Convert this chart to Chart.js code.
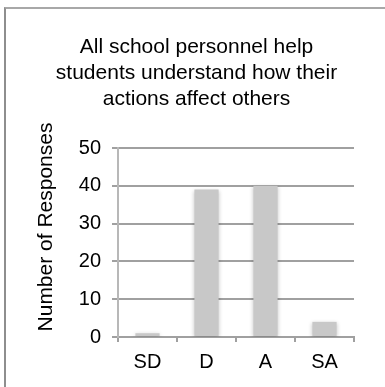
<!DOCTYPE html>
<html>
<head>
<meta charset="utf-8">
<script src="https://cdn.jsdelivr.net/npm/chart.js@4/dist/chart.umd.min.js"></script>
<style>
  html, body {
    margin: 0;
    padding: 0;
    background: #fff;
    overflow: hidden;
  }
  .frame {
    position: absolute;
    left: 4px;
    top: 7px;
    width: 400px;
    height: 400px;
    border-left: 2px solid #8e8e8e;
    border-top: 2px solid #a8a8a8;
  }
  canvas {
    position: absolute;
    left: 0;
    top: 0;
  }
</style>
</head>
<body>
<div class="frame"></div>
<canvas id="chart" width="385" height="387"></canvas>
<script>
const categories = ['SD', 'D', 'A', 'SA']
const responses = [1, 39, 40, 4]
const yTicks = [0, 10, 20, 30, 40, 50]

const titleLines = [
  'All school personnel help',
  'students understand how their',
  'actions affect others',
]
const yTitle = 'Number of Responses'

const fontFamily = "'Liberation Sans', Arial, Helvetica, sans-serif"
const gridColor = '#a0a0a0'

// y axis label sits a little above the middle of the plot, so draw it by hand
const yTitlePlugin = {
  id: 'yTitle',
  afterDraw(chart) {
    const ctx = chart.ctx
    ctx.save()
    ctx.translate(46, 227)
    ctx.rotate(-Math.PI / 2)
    ctx.font = `21px ${fontFamily}`
    ctx.fillStyle = '#000'
    ctx.textAlign = 'center'
    ctx.textBaseline = 'middle'
    ctx.fillText(yTitle, 0, 0)
    ctx.restore()
  },
}

// soft shadow round the bars
const barShadow = {
  id: 'barShadow',
  beforeDatasetsDraw(chart) {
    const ctx = chart.ctx
    ctx.save()
    ctx.shadowColor = 'rgba(0, 0, 0, 0.22)'
    ctx.shadowBlur = 4
    ctx.shadowOffsetX = 0
    ctx.shadowOffsetY = 1
  },
  afterDatasetsDraw(chart) {
    chart.ctx.restore()
  },
}

new Chart(document.getElementById('chart'), {
  type: 'bar',
  data: {
    labels: categories,
    datasets: [
      {
        data: responses,
        backgroundColor: '#c8c8c8',
        borderWidth: 0,
        categoryPercentage: 1,
        barPercentage: 0.41,
      },
    ],
  },
  plugins: [barShadow, yTitlePlugin],
  options: {
    responsive: false,
    animation: false,
    devicePixelRatio: 1,
    layout: {
      padding: { left: 39, right: 31, top: 0, bottom: 0 },
    },
    plugins: {
      legend: { display: false },
      tooltip: { enabled: false },
      title: {
        display: true,
        text: titleLines,
        color: '#000',
        font: { family: fontFamily, size: 21, weight: 'normal', lineHeight: 26 / 21 },
        padding: { top: 34, bottom: 36 },
      },
    },
    scales: {
      x: {
        grid: {
          display: true,
          drawOnChartArea: false,
          drawTicks: true,
          tickLength: 5,
          color: gridColor,
          lineWidth: 2,
        },
        border: { display: true, color: gridColor, width: 2 },
        ticks: {
          color: '#000',
          padding: 8,
          font: { family: fontFamily, size: 20 },
        },
        afterFit(scale) {
          scale.height = 50
        },
      },
      y: {
        min: 0,
        max: 50,
        afterBuildTicks(scale) {
          scale.ticks = yTicks.map((v) => ({ value: v }))
        },
        grid: {
          color: gridColor,
          lineWidth: 2,
          drawTicks: true,
          tickLength: 6,
        },
        border: { display: true, color: '#b8b8b8', width: 2 },
        ticks: {
          color: '#000',
          padding: 11,
          font: { family: fontFamily, size: 20 },
        },
        afterFit(scale) {
          scale.width = 79
        },
      },
    },
  },
})
</script>
</body>
</html>
